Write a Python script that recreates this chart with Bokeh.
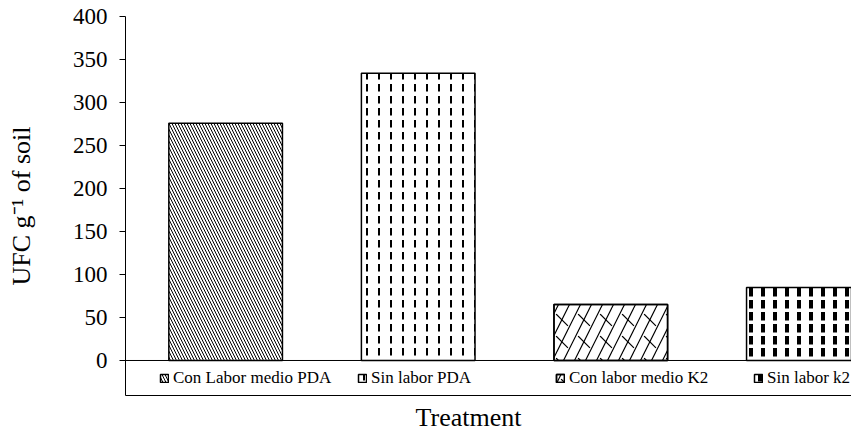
import numpy as np
from bokeh.plotting import figure
from bokeh.models import Range1d, FixedTicker, Span, Legend, LegendItem, Title
from bokeh.embed import file_html
from bokeh.resources import INLINE

# ---- data ----
categories = ["Con Labor medio PDA", "Sin labor PDA", "Con labor medio K2", "Sin labor k2"]
ufc_values = [276, 334, 65, 85]
y_ticks = [0, 50, 100, 150, 200, 250, 300, 350, 400]

FONT = "Liberation Serif"

# hatch layers per bar: (pattern, scale, weight)
hatch_layers = [
    [("left_diagonal_line", 6, 1)],
    [("vertical_dash", 12, 2)],
    [("right_diagonal_line", 22, 1.2), ("left_diagonal_dash", 22, 1.2)],
    [("vertical_dash", 12, 4)],
]

p = figure(width=851, height=436, output_backend="svg", toolbar_location=None,
           x_range=Range1d(-0.02, 3.75), y_range=Range1d(-40.7, 400),
           min_border_left=125, min_border_right=0, min_border_top=16,
           min_border_bottom=41)
p.outline_line_color = None
p.xgrid.visible = False
p.ygrid.visible = False
p.background_fill_color = "white"

positions = np.arange(len(categories)) + 0.5
items = []
for i, (cat, val) in enumerate(zip(categories, ufc_values)):
    rs = []
    for j, (pat, sc, wt) in enumerate(hatch_layers[i]):
        r = p.vbar(x=[positions[i]], top=[val], bottom=0, width=0.59,
                   fill_color="white" if j == 0 else None,
                   line_color="black", line_width=1.5,
                   hatch_pattern=pat, hatch_color="black",
                   hatch_scale=sc, hatch_weight=wt)
        rs.append(r)
    items.append(LegendItem(label=cat, renderers=rs))

p.add_layout(Span(location=0, dimension="width", line_color="black", line_width=1))

# y axis
ya = p.yaxis[0]
ya.ticker = FixedTicker(ticks=y_ticks)
ya.minor_tick_line_color = None
ya.major_tick_in = 0
ya.major_tick_out = 6
ya.major_label_standoff = 12
ya.axis_line_color = "black"
ya.major_label_text_font = FONT
ya.major_label_text_font_size = "23px"
ya.major_label_text_color = "black"
ya.axis_label = "UFC g\u207b\u00b9 of soil"
ya.axis_label_text_font = FONT
ya.axis_label_text_font_size = "26px"
ya.axis_label_text_font_style = "normal"
ya.axis_label_text_color = "black"
ya.axis_label_standoff = 34

# x axis: only the line at the frame bottom
xa = p.xaxis[0]
xa.ticker = FixedTicker(ticks=[])
xa.major_tick_line_color = None
xa.minor_tick_line_color = None
xa.major_label_text_font_size = "0px"
xa.axis_line_color = "black"

legend = Legend(items=items, orientation="horizontal", location=(34, 7),
                label_text_font=FONT, label_text_font_size="17px",
                label_text_color="black", glyph_width=10, glyph_height=10,
                label_standoff=4, label_width=175, spacing=9, padding=0,
                border_line_color=None, background_fill_alpha=0)
p.add_layout(legend, "center")

p.add_layout(Title(text="Treatment", align="left", offset=290, standoff=10,
                   text_font=FONT, text_font_size="26px", text_font_style="normal",
                   text_color="black"), "below")

open("out.html", "w").write(file_html(p, INLINE))
